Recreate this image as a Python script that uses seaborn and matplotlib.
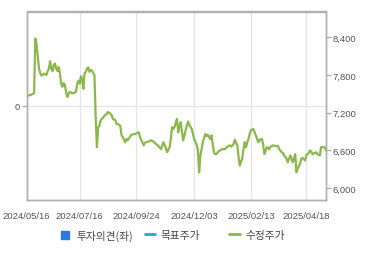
import matplotlib
matplotlib.use("Agg")
import matplotlib.pyplot as plt
from matplotlib.lines import Line2D
from matplotlib.ticker import FuncFormatter
import seaborn as sns
import pandas as pd

# ---- data (trading-day index, adjusted price) ----
days = [0, 3, 5, 6, 7, 8, 10, 11, 12, 14, 16, 17, 18, 19, 20, 21, 22, 23, 24, 25,
        26, 27, 28, 29, 30, 31, 32, 33, 34, 35, 37, 38, 40, 41, 42, 43, 44, 45, 46, 47,
        48, 49, 50, 51, 52, 53, 54, 55, 56, 57, 58, 59, 60, 61, 62, 63, 65, 66, 67, 69,
        70, 72, 73, 74, 76, 77, 78, 80, 81, 82, 84, 85, 88, 91, 92, 95, 96, 97, 99, 101,
        103, 105, 107, 109, 110, 111, 113, 114, 115, 116, 117, 118, 119, 120, 121, 122, 123, 124, 125, 126,
        127, 128, 129, 130, 131, 132, 134, 135, 136, 138, 139, 140, 141, 142, 143, 145, 146, 147, 149, 150,
        151, 152, 153, 154, 156, 157, 159, 161, 163, 165, 166, 168, 169, 170, 171, 172, 173, 174, 175, 176,
        177, 178, 179, 180, 181, 182, 183, 184, 185, 186, 188, 189, 191, 192, 193, 195, 196, 197, 198, 200,
        202, 204, 205, 207, 208, 209, 211, 212, 214, 215, 216, 217, 218, 219, 220, 222, 223, 224, 226, 227,
        229, 230, 231, 232, 234, 235, 236, 238, 239, 240, 242, 243]
price = [7470, 7480, 7500, 7510, 8380, 8290, 7900, 7830, 7790, 7820, 7800, 7860, 7900, 8020, 7900, 7860, 7960, 7980, 7900, 7860,
         7930, 7820, 7660, 7610, 7670, 7640, 7530, 7450, 7500, 7530, 7510, 7510, 7530, 7660, 7710, 7660, 7780, 7740, 7580, 7830,
         7850, 7900, 7920, 7850, 7880, 7870, 7830, 7800, 7130, 6650, 6970, 6990, 7070, 7100, 7120, 7150, 7180, 7210, 7200, 7160,
         7100, 7080, 7020, 7020, 6990, 6840, 6810, 6730, 6780, 6760, 6820, 6850, 6860, 6890, 6810, 6680, 6720, 6730, 6740, 6760,
         6740, 6700, 6670, 6620, 6670, 6730, 6640, 6570, 6610, 6650, 6780, 6970, 6940, 6970, 7040, 7100, 6890, 6990, 7050, 6910,
         6760, 6830, 6920, 6990, 7060, 7010, 6940, 6860, 6780, 6690, 6600, 6250, 6520, 6620, 6730, 6860, 6830, 6850, 6780, 6840,
         6700, 6570, 6540, 6540, 6590, 6600, 6620, 6620, 6660, 6680, 6660, 6700, 6770, 6720, 6680, 6500, 6360, 6420, 6470, 6620,
         6730, 6650, 6720, 6780, 6860, 6920, 6930, 6940, 6890, 6840, 6730, 6770, 6780, 6690, 6540, 6650, 6640, 6620, 6660, 6680,
         6670, 6670, 6620, 6570, 6560, 6520, 6470, 6410, 6520, 6470, 6410, 6470, 6540, 6250, 6310, 6390, 6470, 6480, 6440, 6520,
         6560, 6600, 6580, 6540, 6560, 6570, 6540, 6520, 6650, 6650, 6650, 6600]

tick_days = [0, 43, 89, 136, 182, 227]
tick_labels = ["2024/05/16", "2024/07/16", "2024/09/24", "2024/12/03", "2025/02/13", "2025/04/18"]
price_ticks = [6000, 6600, 7200, 7800, 8400]
legend_labels = ["투자의견(좌)", "목표주가", "수정주가"]

df = pd.DataFrame({"day": days, "price": price})

sns.set_style("white")
plt.rcParams["font.family"] = ["Liberation Sans", "DejaVu Sans"]

GREEN = "#8ab84a"
BLUE = "#2a7ae2"
CYAN = "#22a9c4"
SPINE = "#b0b0b0"
TXT = "#555555"

fig = plt.figure(figsize=(3.70, 2.55), dpi=100)
ax = fig.add_axes([26.7 / 370, 1 - 200.7 / 255, (326 - 26.7) / 370, (200.7 - 12.5) / 255])
ax2 = ax.twinx()

# left axis (investment opinion)
ax.set_ylim(-1, 1)
ax.set_yticks([0])
ax.set_yticklabels(["0"])
ax.set_xlim(0, 243)
ax.set_xticks(tick_days)
ax.set_xticklabels(tick_labels)
ax.grid(True, axis="both", color="#e6e6e6", lw=1.0)
ax.set_axisbelow(True)

# right axis (price)
sns.lineplot(data=df, x="day", y="price", ax=ax2, color=GREEN, lw=1.6)
ax2.set_ylim(5815, 8810)
ax2.set_yticks(price_ticks)
ax2.yaxis.set_major_formatter(FuncFormatter(lambda v, p: f"{int(v):,}"))
ax2.set_xlim(0, 243)
ax2.set_xlabel("")
ax2.set_ylabel("")
ax.set_xlabel("")
ax.set_ylabel("")
ax2.grid(False)

for a in (ax, ax2):
    for s in a.spines.values():
        s.set_color(SPINE)
        s.set_linewidth(1.0)
    a.tick_params(colors=TXT, labelsize=6.8, length=3.5, width=1.0, color=SPINE, pad=1.5)
ax.tick_params(axis="x", length=4, pad=4)

# legend (three fixed-width items)
fs = 7.7
handles = [
    Line2D([], [], marker="s", linestyle="none", color=BLUE, markersize=6),
    Line2D([], [], color=CYAN, lw=2),
    Line2D([], [], color=GREEN, lw=2),
]
xs = [60, 144.5, 229]
for h, lab, x in zip(handles, legend_labels, xs):
    fig.legend([h], [lab], loc="center left", bbox_to_anchor=(x / 370, 1 - 236 / 255),
               frameon=False, borderpad=0, borderaxespad=0, handlelength=1.0,
               handletextpad=0.5, prop={"family": ["Noto Sans CJK KR", "DejaVu Sans"], "size": fs},
               labelcolor="#444444")

fig.savefig("out.png", dpi=100)
